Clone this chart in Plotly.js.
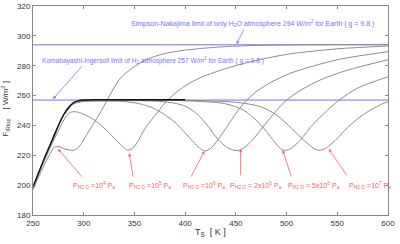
<!DOCTYPE html>
<html><head><meta charset="utf-8">
<script src="https://cdn.plot.ly/plotly-3.0.1.min.js"></script>
<style>html,body{margin:0;padding:0;background:#fff}#chart{width:400px;height:244px}</style>
</head><body><div id="chart"></div>
<script>
// Limits
const limitSN = 294;   // Simpson-Nakajima
const limitKI = 257;   // Komabayashi-Ingersoll

// H2 limit curve (black)
const T_black = [250,255,260,265,270,275,280,285,290,295,300,310,400];
const F_black = [199,207.5,216,224,232,240,247,252,255.3,256.6,257,257.2,257.2];

// P_H2O = 1e4 Pa
const T_p4 = [250,260,266,271,276,281,286,291,296,304,313,320,328,336,348,360,376,395,415,440,470,520,600];
const F_p4 = [197,212,220,225.3,225.8,224.3,223.5,223.5,226.2,235,244.8,253,263,271.5,278.5,283.5,287.5,290,291.5,292.8,293.6,294,294.2];

// P_H2O = 1e5 Pa
const T_p5 = [250,260,270,277,282,287,292,300,313,322,333,339,343,348,354,360,366,373,380,390,400,415,435,455,480,504,550,600];
const F_p5 = [198,214.5,229.5,239,245.5,248.8,249.2,247.5,242.5,237,229.5,225.5,223.5,224.5,230,237.5,243,249,255,261.5,266.5,272,277,281,285,288,291.3,293.2];

// P_H2O = 1e6 Pa
const T_p6 = [250,260,270,280,290,300,320,340,355,367,378,390,400,408,414,419,425,433,442,450,458,470,485,504,550,600];
const F_p6 = [198,215.5,231.5,246.5,254.5,256,256.3,256,254.5,252,248,242,235,229,225,223,224.5,231,240,248,255,262.5,269,275,284,289.4];

// P_H2O = 2e6 Pa
const T_p2e6 = [250,260,270,280,290,300,340,380,400,412,422,432,442,449,453,458,466,478,490,500,515,535,560,600];
const F_p2e6 = [198,215.5,231.5,246.5,254.5,256.2,256.6,255.8,253,247.5,240,231,225,223.3,223.3,225,230,240,250,257,264,271,277,284];

// P_H2O = 5e6 Pa
const T_p5e6 = [250,260,270,280,290,300,350,400,440,458,470,480,488,494,498,503,512,525,540,552,570,600];
const F_p5e6 = [198,215.5,231.5,246.5,254.5,256.3,256.8,256.5,254.5,250,243.5,236,229,224.5,223.3,224,229,240,250,257,265,272.6];

// P_H2O = 1e7 Pa
const T_p7 = [250,260,270,280,290,300,350,400,450,474,490,505,518,527,532,538,548,560,575,590,600];
const F_p7 = [198,215.5,231.5,246.5,254.5,256.5,257,256.8,255.5,252.6,247,238,229.5,224.5,223.3,224.5,230,238.5,247,253,256];

// Tick values
const xTicks = [250,300,350,400,450,500,550,600];
const yTicks = [180,200,220,240,260,280,300,320];

// Red labels
const labelTexts = [
  'P<sub>H2 O</sub> =10<sup>4</sup> P<sub>a</sub>',
  'P<sub>H2 O</sub> =10<sup>5</sup> P<sub>a</sub>',
  'P<sub>H2 O</sub> =10<sup>6</sup> P<sub>a</sub>',
  'P<sub>H2 O</sub> = 2x10<sup>6</sup> P<sub>a</sub>',
  'P<sub>H2 O</sub> = 5x10<sup>6</sup> P<sub>a</sub>',
  'P<sub>H2 O</sub> =10<sup>7</sup> P<sub>a</sub>'
];
const labelX = [310,365,419,470,527,582];
const labelY = [199.5,199.5,199.5,199.5,199.5,199.5];
const arrowHeadX = [274.7,344.9,419.1,454.7,496.2,541.7];
const arrowHeadY = [224.2,221.5,222.9,224.2,223.5,224.2];
const arrowTailX = [299.4,348.9,405.2,454.7,505.1,560.5];
const arrowTailY = [204.8,204.8,204.8,205.5,204.8,205.5];

const gray = '#8c8c8c';
const blue = '#7373ff';
const red = '#ff5c5c';
const sp = {shape:'spline', smoothing:0.8};
const FAM = 'Liberation Sans, Arial, sans-serif';

function g(T,F){ return {x:T,y:F,mode:'lines',line:Object.assign({color:gray,width:1},sp),hoverinfo:'skip'}; }

const traces = [
  {x:[250,600],y:[limitSN,limitSN],mode:'lines',line:{color:blue,width:1}},
  {x:[250,600],y:[limitKI,limitKI],mode:'lines',line:{color:blue,width:1}},
  g(T_p4,F_p4), g(T_p5,F_p5), g(T_p6,F_p6), g(T_p2e6,F_p2e6), g(T_p5e6,F_p5e6), g(T_p7,F_p7),
  {x:T_black,y:F_black,mode:'lines',line:Object.assign({color:'#111',width:1.4},sp)}
];

const ann = [];
ann.push({x:466,y:308,xref:'x',yref:'y',text:'Simpson-Nakajima limit of only H<sub>2</sub>O atmosphere 294 W/m<sup>2</sup> for Earth ( g = 9.8 )',showarrow:false,font:{family:FAM,size:7,color:blue}});
ann.push({x:450.7,y:294.5,ax:458.6,ay:305.3,xref:'x',yref:'y',axref:'x',ayref:'y',text:'',showarrow:true,arrowhead:2,arrowsize:0.8,arrowwidth:0.8,arrowcolor:blue});
ann.push({x:368,y:283.8,xref:'x',yref:'y',text:'Komabayashi-Ingersoll limit of H<sub>2</sub> atmosphere 257 W/m<sup>2</sup> for Earth ( g = 9.8 )',showarrow:false,font:{family:FAM,size:6.6,color:blue}});
ann.push({x:269.8,y:257.7,ax:299.4,ay:280.5,xref:'x',yref:'y',axref:'x',ayref:'y',text:'',showarrow:true,arrowhead:2,arrowsize:0.8,arrowwidth:0.8,arrowcolor:blue});
for(let i=0;i<labelTexts.length;i++){
  ann.push({x:labelX[i],y:labelY[i],xref:'x',yref:'y',text:labelTexts[i],showarrow:false,font:{family:FAM,size:7,color:red}});
  ann.push({x:arrowHeadX[i],y:arrowHeadY[i],ax:arrowTailX[i],ay:arrowTailY[i],xref:'x',yref:'y',axref:'x',ayref:'y',text:'',showarrow:true,arrowhead:2,arrowsize:0.8,arrowwidth:0.8,arrowcolor:red});
}
// axis titles placed as annotations for exact position
ann.push({x:0.5,y:-0.05,xref:'paper',yref:'paper',yanchor:'top',text:'T<sub>S</sub>  [ K ]',showarrow:false,font:{family:FAM,size:9,color:'#333'}});
ann.push({x:-0.078,y:0.51,xref:'paper',yref:'paper',xanchor:'center',text:'F<sub>IRtop</sub>    [ W/m<sup>2</sup> ]',textangle:-90,showarrow:false,font:{family:FAM,size:8,color:'#333'}});

const axisCommon = {showline:true,linecolor:'#888',linewidth:1,mirror:'ticks',ticks:'inside',ticklen:3,tickcolor:'#888',showgrid:false,zeroline:false,tickfont:{family:FAM,size:8,color:'#333'}};

const layout = {
  width:400,height:244,margin:{l:33,r:12,t:6,b:29},
  paper_bgcolor:'#fff',plot_bgcolor:'#fff',showlegend:false,
  font:{family:FAM,color:'#333'},
  xaxis:Object.assign({},axisCommon,{range:[250,600],tickvals:xTicks}),
  yaxis:Object.assign({},axisCommon,{range:[180,320],tickvals:yTicks}),
  annotations:ann
};
Plotly.newPlot('chart',traces,layout,{staticPlot:true,displayModeBar:false});
</script></body></html>
